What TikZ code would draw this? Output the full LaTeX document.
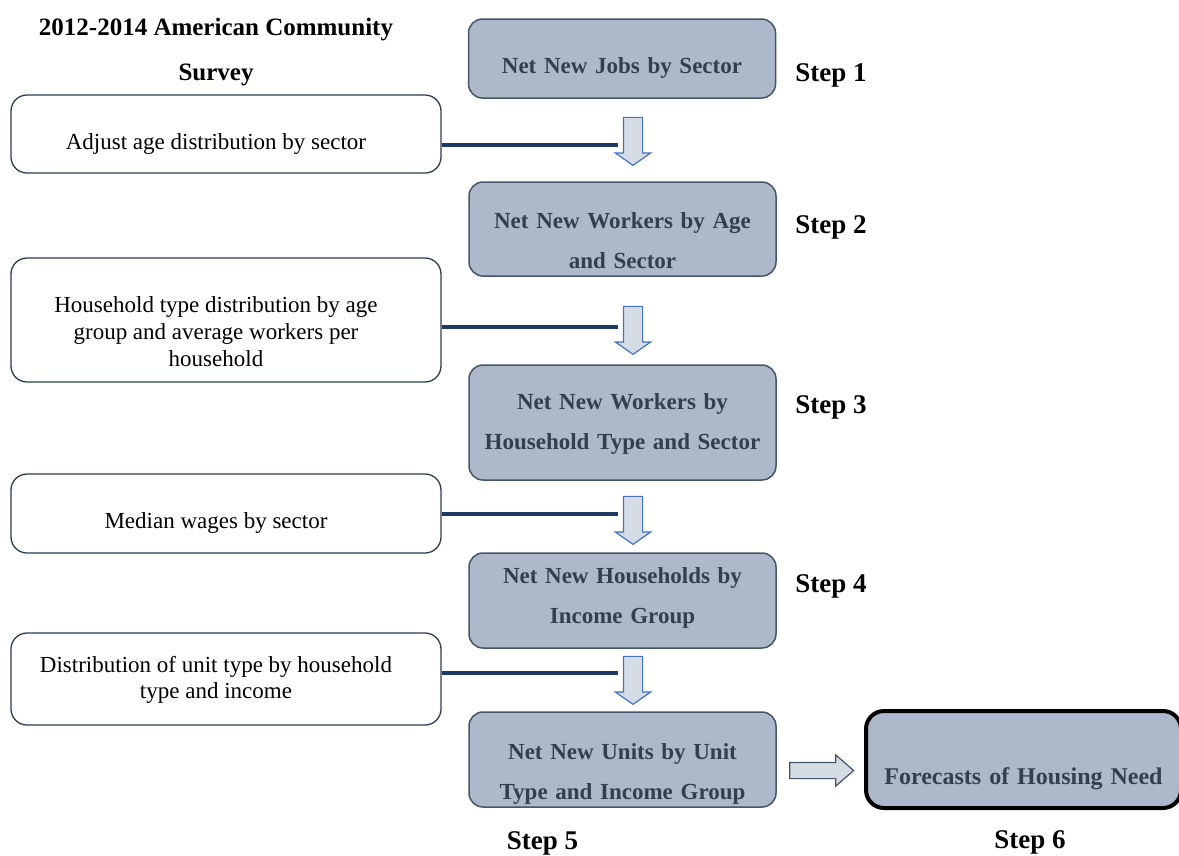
\documentclass[tikz,border=0pt]{standalone}
\usepackage{fontspec}
\setmainfont{Liberation Serif}
\usetikzlibrary{shapes.arrows}
\definecolor{rfill}{HTML}{ADB9CA}
\definecolor{rdraw}{HTML}{475569}
\definecolor{rtext}{HTML}{333F50}
\definecolor{ldraw}{HTML}{2E3D52}
\definecolor{navy}{HTML}{1F3864}
\definecolor{afill}{HTML}{D6DCE5}
\definecolor{ablue}{HTML}{4472C4}
\newcommand\lefttext[1]{\parbox[t]{400pt}{\centering #1}\rule{20pt}{0pt}}
\begin{document}
\begin{tikzpicture}[x=1pt,y=-1pt,
  rbox/.style={draw=rdraw, line width=1.5pt, fill=rfill, rounded corners=14pt, minimum width=307pt, text width=300pt, align=center, inner sep=0pt, text=rtext, font=\fontsize{23}{40}\selectfont\bfseries},
  lbox/.style={draw=ldraw, line width=1.3pt, fill=white, rounded corners=16pt, minimum width=430pt, inner sep=0pt, font=\fontsize{23}{26.7}\selectfont},
  stepl/.style={anchor=base, font=\fontsize{27}{30}\selectfont\bfseries},
  titlel/.style={anchor=base, font=\fontsize{25}{28}\selectfont\bfseries},
  darrow/.style={single arrow, shape border rotate=270, draw=ablue, line width=1.2pt, fill=afill, minimum height=48pt, minimum width=34pt, single arrow head extend=8pt, single arrow tip angle=110, inner sep=9pt},
  rarrow/.style={single arrow, draw=rdraw, line width=1.2pt, fill=afill, minimum height=64pt, minimum width=30pt, single arrow head extend=7.5pt, single arrow tip angle=82, inner sep=7.5pt},
  conn/.style={draw=navy, line width=4pt}
]
\useasboundingbox (0,0) rectangle (1179,855);

% title
\node[titlel] (t1) at (216,35) {2012-2014 American Community};
\node[titlel] (t2) at (216,80) {Survey};

% step boxes
\node[rbox, minimum height=79pt, text height=29.6pt, text depth=0pt] (r1) at (622,58.5) {Net New Jobs by Sector};
\node[rbox, minimum height=94pt, text height=0pt, text depth=2pt] (r2) at (622.5,229) {Net New Workers by Age\\and Sector};
\node[rbox, minimum height=115pt, text height=0pt, text depth=27pt] (r3) at (622.5,422.5) {Net New Workers by\\Household Type and Sector};
\node[rbox, minimum height=95pt, text height=0pt, text depth=35pt] (r4) at (622.5,600.5) {Net New Households by\\Income Group};
\node[rbox, minimum height=95pt, text height=0pt, text depth=0pt] (r5) at (622.5,759.5) {Net New Units by Unit\\Type and Income Group};
\node[rbox, draw=black, line width=4pt, rounded corners=18pt, minimum width=315pt, minimum height=97pt, text height=50pt, text depth=0pt, font=\fontsize{24}{40}\selectfont\bfseries] (r6) at (1023.5,759.5) {Forecasts of Housing Need};

% input boxes
\node[lbox, minimum height=78pt, text height=30.6pt, text depth=0pt] (l1) at (226,134) {\lefttext{Adjust age distribution by sector}};
\node[lbox, minimum height=124pt, text height=0pt, text depth=14.6pt] (l2) at (226,320) {\lefttext{Household type distribution by age\\group and average workers per\\household}};
\node[lbox, minimum height=79pt, text height=29pt, text depth=0pt] (l3) at (226,513.5) {\lefttext{Median wages by sector}};
\node[lbox, minimum height=92pt, text height=0pt, text depth=14pt] (l4) at (226,679) {\lefttext{Distribution of unit type by household\\type and income}};

% block arrows
\node[darrow] (a1) at (633,138) {};
\node[darrow] (a2) at (633,327) {};
\node[darrow] (a3) at (633,517) {};
\node[darrow] (a4) at (633,677) {};
\node[rarrow] (a5) at (817,770.5) {};

% connector ends
\coordinate (c1) at (618,145);
\coordinate (c2) at (618,327);
\coordinate (c3) at (618,514);
\coordinate (c4) at (618,673);
\draw[conn] (l1.east |- c1) -- (c1);
\draw[conn] (l2.east |- c2) -- (c2);
\draw[conn] (l3.east |- c3) -- (c3);
\draw[conn] (l4.east |- c4) -- (c4);

% step labels
\node[stepl] (s1) at (831,81.5) {Step 1};
\node[stepl] (s2) at (831,233) {Step 2};
\node[stepl] (s3) at (831,413) {Step 3};
\node[stepl] (s4) at (831,592) {Step 4};
\node[stepl] (s5) at (542.5,849) {Step 5};
\node[stepl] (s6) at (1030,848) {Step 6};
\end{tikzpicture}
\end{document}
